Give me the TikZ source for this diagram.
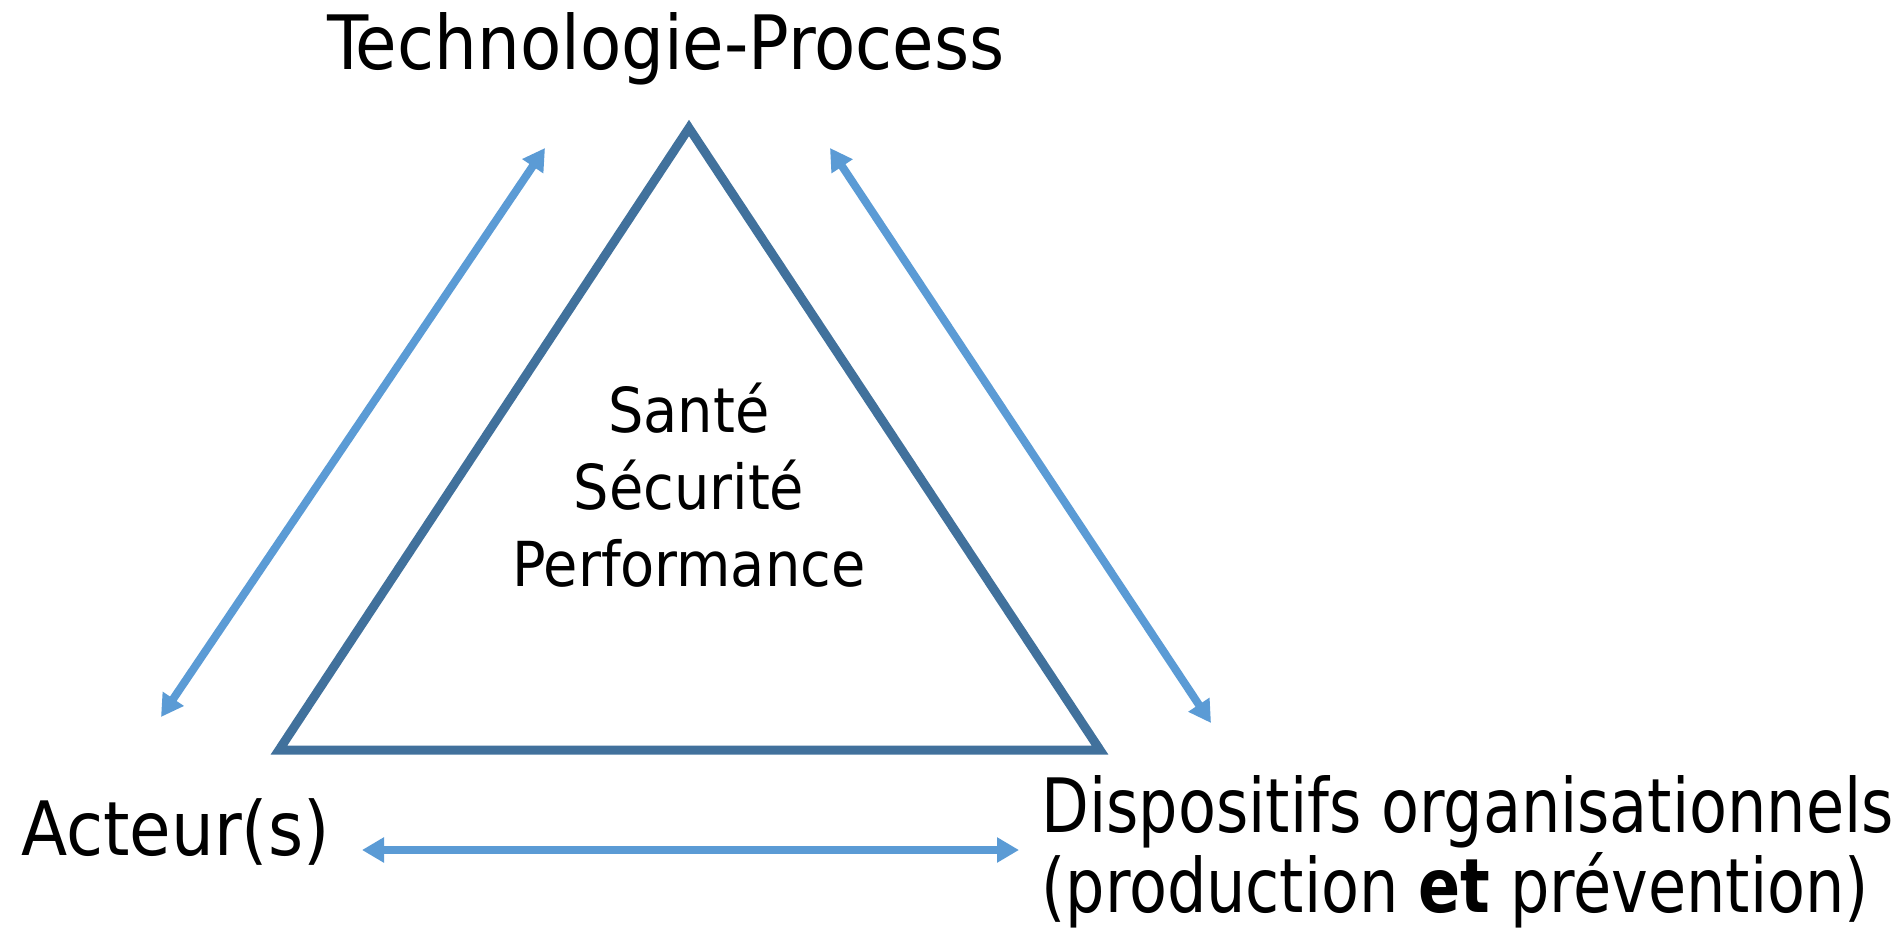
\documentclass[tikz,border=0pt]{standalone}
\usepackage{fontspec}
\setmainfont{DejaVu Sans Condensed}
\usetikzlibrary{arrows.meta}
\definecolor{triblue}{HTML}{41719C}
\definecolor{arrblue}{HTML}{5B9BD5}
\tikzset{
  pole/.style={inner sep=0pt, font=\fontsize{37.5}{45}\selectfont},
  narrow/.style={inner sep=0pt, font=\fontsize{37.5}{45}\selectfont\addfontfeature{FakeStretch=0.92}},
  centre/.style={inner sep=0pt, align=center, font=\fontsize{31}{38.5}\selectfont},
  link/.style={arrblue, line width=4pt,
    {Triangle[length=11pt,width=12pt]}-{Triangle[length=11pt,width=12pt]}},
  frame/.style={triblue, line width=4.5pt, line join=miter},
}
\begin{document}
\begin{tikzpicture}[x=0.5pt,y=-0.5pt]
\useasboundingbox (0,0) rectangle (1903,933);
% the three poles
\node[pole,anchor=base] (techno) at (666,69) {Technologie-Process};
\node[pole,anchor=base west] (acteur) at (21,855) {Acteur(s)};
\node[narrow,anchor=base west] (dispo) at (1041,832) {Dispositifs organisationnels};
\node[narrow,anchor=base west] (prev) at (1041,912) {(production \textbf{et} prévention)};
% triangle
\coordinate (top) at (689,128);
\coordinate (left) at (279,750);
\coordinate (right) at (1100,750);
\draw[frame] (top) -- (left) -- (right) -- cycle;
\node[centre] (enjeux) at (689,485) {Santé\\Sécurité\\Performance};
% arrows
\coordinate (al) at (161,717);
\coordinate (at) at (545,148);
\coordinate (bt) at (830,148);
\coordinate (br) at (1211,723);
\coordinate (cl) at (362,850);
\coordinate (cr) at (1019,850);
\draw[link] (al) -- (at);
\draw[link] (bt) -- (br);
\draw[link] (cl) -- (cr);
\end{tikzpicture}
\end{document}
